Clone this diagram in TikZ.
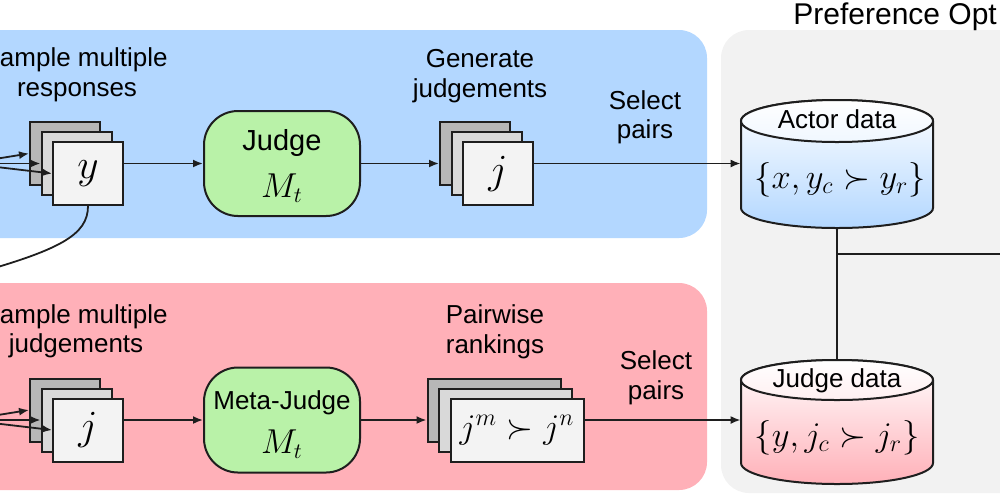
\documentclass[tikz,border=0pt]{standalone}
\usepackage{fontspec}
\setmainfont{Liberation Sans}
\usetikzlibrary{arrows.meta}
\definecolor{panelblue}{RGB}{179,215,255}
\definecolor{panelpink}{RGB}{255,176,184}
\definecolor{panelgray}{RGB}{242,242,242}
\definecolor{judgegreen}{RGB}{185,242,168}
\definecolor{boxdark}{RGB}{183,183,183}
\definecolor{boxmid}{RGB}{217,217,217}
\definecolor{boxlight}{RGB}{243,243,243}
\definecolor{linecol}{RGB}{30,30,30}
\begin{document}
\begin{tikzpicture}[x=0.5pt,y=-0.5pt,
  lbl/.style={inner sep=0pt, anchor=base, font=\fontsize{13}{15}\selectfont},
  card/.style={draw=linecol, line width=1pt, minimum width=35pt, minimum height=31.5pt, inner sep=0pt, font=\fontsize{21}{21}\selectfont},
  widecard/.style={card, minimum width=66.5pt, font=\fontsize{18.5}{18.5}\selectfont},
  model/.style={draw=linecol, line width=1pt, fill=judgegreen, rounded corners=17pt, minimum width=78pt, minimum height=52.5pt, inner sep=0pt},
  arr/.style={draw=linecol, line width=0.9pt, -{Latex[length=5pt,width=4pt]}},
  conn/.style={draw=linecol, line width=0.9pt},
  cyl/.style={draw=linecol, line width=1pt},
  cylarea/.style={minimum width=96pt, inner sep=0pt}]
\useasboundingbox (0,0) rectangle (1000,500);
\clip (0,0) rectangle (1000,500);

% panels
\fill[panelblue, rounded corners=14pt] (-60,30) rectangle (707,238);
\fill[panelpink, rounded corners=14pt] (-60,283) rectangle (707,490);
\fill[panelgray, rounded corners=14pt] (721,30) rectangle (1060,493);

% title
\node[lbl, anchor=base west, font=\fontsize{15}{17}\selectfont] (title) at (793,24) {Preference Opt};

% top row labels
\node[lbl, anchor=base east] (l1a) at (168,66) {ample multiple};
\node[lbl] (l1b) at (77,96) {responses};
\node[lbl] (l2a) at (480,67) {Generate};
\node[lbl] (l2b) at (480,97) {judgements};
\node[lbl] (l3a) at (645,109) {Select};
\node[lbl] (l3b) at (645,138) {pairs};

% bottom row labels
\node[lbl, anchor=base east] (l4a) at (168,323) {ample multiple};
\node[lbl] (l4b) at (76,352) {judgements};
\node[lbl] (l5a) at (495,323) {Pairwise};
\node[lbl] (l5b) at (495,353) {rankings};
\node[lbl] (l6a) at (656,369) {Select};
\node[lbl] (l6b) at (656,399) {pairs};

% top stacks
\node[card, fill=boxdark] (ys1) at (65,153.5) {};
\node[card, fill=boxmid] (ys2) at (76.5,163.5) {};
\node[card, fill=boxlight] (ys3) at (88,173.5) {$y$};

\node[model] (judge) at (282,163.5) {};
\node[inner sep=0pt, anchor=base, font=\fontsize{14.5}{16}\selectfont] (judgetxt) at (282,150) {Judge};
\node[inner sep=0pt, anchor=base, font=\fontsize{16}{16}\selectfont] (judgem) at (282,197) {$M_t$};

\node[card, fill=boxdark] (js1) at (475,153.5) {};
\node[card, fill=boxmid] (js2) at (486.5,163.5) {};
\node[card, fill=boxlight] (js3) at (498,173.5) {$j$};

% bottom stacks
\node[card, fill=boxdark] (jb1) at (65,410) {};
\node[card, fill=boxmid] (jb2) at (76.5,420) {};
\node[card, fill=boxlight] (jb3) at (88,430) {$j$};

\node[model] (meta) at (282,420) {};
\node[inner sep=0pt, anchor=base, font=\fontsize{13}{15}\selectfont] (metatxt) at (282,409) {Meta-Judge};
\node[inner sep=0pt, anchor=base, font=\fontsize{16}{16}\selectfont] (metam) at (282,453) {$M_t$};

\node[widecard, fill=boxdark] (pr1) at (494,410) {};
\node[widecard, fill=boxmid] (pr2) at (505.5,420) {};
\node[widecard, fill=boxlight] (pr3) at (517,430) {$j^m\succ j^n$};

% actor data cylinder
\draw[cyl, top color=white, bottom color=panelblue] (741,121) -- (741,208)
  arc[start angle=180, end angle=360, x radius=48pt, y radius=10pt] -- (933,121)
  arc[start angle=0, end angle=180, x radius=48pt, y radius=10.5pt] -- cycle;
\draw[cyl, top color=white, bottom color=panelblue!20] (837,121) ellipse[x radius=48pt, y radius=10.5pt];
\node[cylarea, minimum height=64pt] (actor) at (837,164) {};
\node[lbl] (actortxt) at (837,128) {Actor data};
\node[inner sep=0pt, font=\fontsize{16.5}{16.5}\selectfont] (actorm) at (840,180) {$\{x, y_c \succ y_r\}$};

% judge data cylinder
\draw[cyl, top color=white, bottom color=panelpink] (741,380) -- (741,463)
  arc[start angle=180, end angle=360, x radius=48pt, y radius=10.5pt] -- (933,380)
  arc[start angle=0, end angle=180, x radius=48pt, y radius=10pt] -- cycle;
\draw[cyl, top color=white, bottom color=panelpink!20] (837,380) ellipse[x radius=48pt, y radius=10pt];
\node[cylarea, minimum height=62.5pt] (jdata) at (837,422.5) {};
\node[lbl] (jdatatxt) at (837,387) {Judge data};
\node[inner sep=0pt, font=\fontsize{16.5}{16.5}\selectfont] (jdatam) at (837,438) {$\{y, j_c \succ j_r\}$};

% coordinates for free ends
\coordinate (src1) at (-33,163.5);
\coordinate (src2) at (-33,420);
\coordinate (prompt) at (-30,275);
\coordinate (junct) at (837,254);
\coordinate (optR) at (1010,254);

% connectors top
\draw[arr] (src1) -- (ys1.west);
\draw[arr] (src1) -- (ys2.west);
\draw[arr] (src1) -- (ys3.west);
\draw[arr] (ys3.east |- judge.west) -- (judge.west);
\draw[arr] (judge.east) -- (judge.east -| js1.west);
\draw[arr] (js3.east |- judge.east) -- (actor.west |- judge.east);
\draw[conn] (ys3.south) .. controls (88,235) and (60,250) .. (prompt);

% connectors bottom
\draw[arr] (src2) -- (jb1.west);
\draw[arr] (src2) -- (jb2.west);
\draw[arr] (src2) -- (jb3.west);
\draw[arr] (jb3.east |- meta.west) -- (meta.west);
\draw[arr] (meta.east) -- (meta.east -| pr1.west);
\draw[arr] (pr3.east |- meta.east) -- (jdata.west |- meta.east);

% right connectors
\draw[conn] (actor.south) -- (jdata.north);
\draw[conn] (junct) -- (optR);
\end{tikzpicture}
\end{document}
